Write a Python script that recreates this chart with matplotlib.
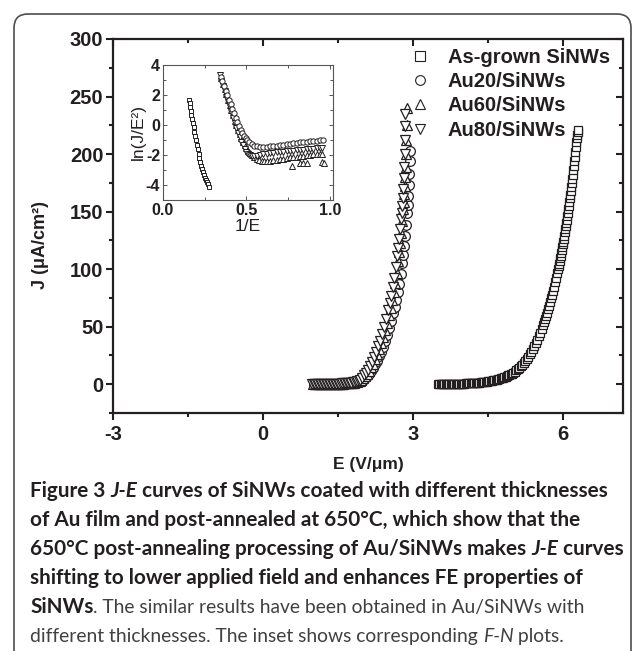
import matplotlib
matplotlib.use('Agg')
import matplotlib.pyplot as plt
from matplotlib.patches import FancyBboxPatch
from matplotlib.transforms import IdentityTransform
from matplotlib.ticker import MultipleLocator

plt.rcParams['axes.unicode_minus'] = False

# ---- main J-E curves ----
e_asgrown = [3.500, 3.525, 3.550, 3.575, 3.600, 3.625, 3.650, 3.675, 3.700, 3.725, 3.750, 3.775,
             3.800, 3.825, 3.850, 3.875, 3.900, 3.925, 3.950, 3.975, 4.000, 4.025, 4.050, 4.075,
             4.100, 4.125, 4.150, 4.175, 4.200, 4.225, 4.250, 4.275, 4.300, 4.325, 4.350, 4.375,
             4.400, 4.425, 4.450, 4.475, 4.500, 4.525, 4.550, 4.575, 4.600, 4.625, 4.650, 4.675,
             4.700, 4.725, 4.750, 4.775, 4.800, 4.825, 4.850, 4.875, 4.900, 4.925, 4.950, 4.975,
             5.00, 5.03, 5.06, 5.09, 5.12, 5.15, 5.18, 5.21, 5.24, 5.27, 5.30, 5.33,
             5.36, 5.39, 5.42, 5.45, 5.48, 5.51, 5.54, 5.57, 5.60, 5.62, 5.64, 5.66, 5.68, 5.70,
             5.72, 5.74, 5.76, 5.78, 5.80, 5.82, 5.84, 5.86, 5.88, 5.90, 5.91, 5.92, 5.93, 5.94,
             5.95, 5.96, 5.97, 5.98, 5.99, 6.00, 6.01, 6.02, 6.03, 6.04, 6.05, 6.06, 6.07, 6.08,
             6.09, 6.10, 6.11, 6.12, 6.13, 6.14, 6.15, 6.16, 6.17, 6.18, 6.19, 6.20, 6.21, 6.22,
             6.23, 6.24, 6.25, 6.26, 6.27, 6.28, 6.29, 6.30]
j_asgrown = [0.0, 0.0, 0.1, 0.1, 0.1, 0.1, 0.2, 0.2, 0.2, 0.2, 0.3, 0.3,
             0.3, 0.3, 0.4, 0.4, 0.4, 0.5, 0.5, 0.5, 0.6, 0.6, 0.7, 0.7,
             0.8, 0.8, 0.9, 1.0, 1.0, 1.1, 1.2, 1.3, 1.4, 1.5, 1.6, 1.8,
             1.9, 2.0, 2.2, 2.3, 2.5, 2.7, 2.9, 3.1, 3.3, 3.6, 3.8, 4.1,
             4.4, 4.7, 5.1, 5.4, 5.8, 6.2, 6.7, 7.1, 7.6, 8.1, 8.7, 9.3,
             10.0, 11.0, 12.1, 13.2, 14.4, 15.7, 17.1, 18.7, 20.3, 22.0, 24.0, 26.1,
             28.4, 30.7, 33.2, 35.8, 38.5, 41.5, 44.6, 48.0, 51.5, 54.0, 56.7, 59.5, 62.3, 65.2,
             68.2, 71.3, 74.5, 77.8, 81.2, 84.8, 88.5, 92.4, 96.4, 100.5, 102.7, 104.9, 107.1, 109.4,
             111.7, 114.1, 116.5, 119.0, 121.5, 124.0, 126.6, 129.2, 131.9, 134.6, 137.4, 140.2, 143.1, 146.0,
             149.0, 152.0, 155.1, 158.3, 161.5, 164.8, 168.1, 171.5, 175.0, 178.6, 182.2, 186.0, 189.8, 193.7,
             197.7, 201.8, 205.9, 210.1, 214.4, 217.0, 219.0, 221.0]

e_au20 = [1.01, 1.04, 1.07, 1.10, 1.13, 1.16, 1.19, 1.22, 1.25, 1.28, 1.31, 1.34, 1.37, 1.40,
          1.43, 1.46, 1.49, 1.52, 1.55, 1.58, 1.61, 1.64, 1.67, 1.70, 1.73, 1.76, 1.79, 1.82,
          1.85, 1.88, 1.91, 1.94, 1.97, 2.00, 2.04, 2.08, 2.12, 2.16, 2.20, 2.24, 2.28, 2.32,
          2.36, 2.40, 2.44, 2.48, 2.52, 2.56, 2.60, 2.63, 2.66, 2.69, 2.72, 2.75, 2.78, 2.80,
          2.82, 2.84, 2.86, 2.88, 2.89, 2.90, 2.91, 2.92, 2.93, 2.935]
j_au20 = [0.0, 0.0, 0.0, 0.0, 0.1, 0.1, 0.1, 0.1, 0.1, 0.2, 0.2, 0.2, 0.2, 0.3,
          0.3, 0.3, 0.4, 0.4, 0.5, 0.5, 0.6, 0.7, 0.7, 0.8, 0.9, 1.0, 1.2, 1.4,
          1.6, 1.9, 2.2, 2.7, 3.2, 4.0, 5.5, 7.2, 9.2, 11.6, 14.3, 17.3, 20.6, 24.2,
          28.2, 32.6, 37.4, 42.6, 48.5, 55.0, 62.0, 67.5, 73.5, 80.0, 87.5, 96.0, 105.5, 112.5,
          120.0, 128.5, 138.0, 149.0, 156.0, 164.0, 173.0, 183.0, 194.0, 203.0]

e_au60 = [1.00, 1.03, 1.06, 1.09, 1.12, 1.15, 1.18, 1.21, 1.24, 1.27, 1.30, 1.33, 1.36, 1.39,
          1.42, 1.45, 1.48, 1.51, 1.54, 1.57, 1.60, 1.63, 1.66, 1.69, 1.72, 1.75, 1.78, 1.81,
          1.84, 1.87, 1.90, 1.93, 1.96, 2.00, 2.04, 2.08, 2.12, 2.16, 2.20, 2.24, 2.28, 2.32,
          2.36, 2.40, 2.44, 2.48, 2.52, 2.55, 2.58, 2.61, 2.64, 2.67, 2.70, 2.72, 2.74, 2.76,
          2.78, 2.80, 2.81, 2.82, 2.83, 2.84, 2.85, 2.86, 2.865, 2.87, 2.875]
j_au60 = [0.0, 0.0, 0.0, 0.1, 0.1, 0.1, 0.1, 0.1, 0.2, 0.2, 0.2, 0.2, 0.3, 0.3,
          0.3, 0.4, 0.4, 0.5, 0.5, 0.6, 0.6, 0.7, 0.8, 0.9, 1.0, 1.1, 1.3, 1.5,
          1.8, 2.1, 2.4, 2.8, 3.6, 5.0, 6.8, 9.0, 11.6, 14.6, 18.0, 21.8, 26.0, 30.6,
          35.6, 41.0, 47.0, 53.5, 60.5, 66.5, 73.0, 80.0, 88.0, 97.0, 107.0, 114.5, 122.5, 131.5,
          141.5, 152.5, 158.5, 165.0, 172.0, 180.0, 189.0, 200.0, 212.0, 225.0, 240.0]

e_au80 = [0.98, 1.01, 1.04, 1.07, 1.10, 1.13, 1.16, 1.19, 1.22, 1.25, 1.28, 1.31, 1.34, 1.37,
          1.40, 1.43, 1.46, 1.49, 1.52, 1.55, 1.58, 1.61, 1.64, 1.67, 1.70, 1.73, 1.76, 1.79,
          1.82, 1.85, 1.88, 1.91, 1.94, 1.98, 2.02, 2.06, 2.10, 2.14, 2.18, 2.22, 2.26, 2.30,
          2.34, 2.38, 2.42, 2.46, 2.50, 2.53, 2.56, 2.59, 2.62, 2.65, 2.68, 2.70, 2.72, 2.74,
          2.76, 2.77, 2.78, 2.79, 2.80, 2.81, 2.82, 2.83, 2.835, 2.84, 2.845]
j_au80 = [0.0, 0.0, 0.0, 0.1, 0.1, 0.1, 0.1, 0.2, 0.2, 0.2, 0.2, 0.3, 0.3, 0.3,
          0.4, 0.4, 0.5, 0.5, 0.6, 0.6, 0.7, 0.8, 0.9, 1.0, 1.1, 1.3, 1.5, 1.7,
          2.0, 2.3, 2.6, 3.0, 4.0, 5.6, 7.6, 10.0, 12.8, 16.0, 19.6, 23.6, 28.0, 32.8,
          38.0, 43.8, 50.0, 57.0, 64.5, 70.5, 77.0, 84.5, 92.5, 101.5, 111.5, 118.5, 126.0, 134.5,
          144.0, 149.0, 155.0, 162.0, 170.0, 179.0, 189.0, 200.0, 212.0, 224.0, 235.0]

# ---- inset F-N plots ----
fx_asgrown = [0.157, 0.160, 0.163, 0.166, 0.170, 0.174, 0.178, 0.183, 0.188, 0.193, 0.198, 0.203,
              0.208, 0.213, 0.218, 0.223, 0.228, 0.234, 0.240, 0.246, 0.252, 0.258, 0.264, 0.270, 0.276]
fy_asgrown = [1.70, 1.45, 1.20, 0.95, 0.70, 0.40, 0.15, -0.15, -0.45, -0.75, -1.00, -1.30,
              -1.60, -1.90, -2.20, -2.45, -2.70, -2.95, -3.15, -3.35, -3.50, -3.65, -3.80, -3.95, -4.15]

fx_au20 = [0.345, 0.355, 0.365, 0.375, 0.385, 0.395, 0.405, 0.415, 0.425, 0.435, 0.445, 0.455,
           0.465, 0.475, 0.485, 0.495, 0.505, 0.515, 0.530, 0.545, 0.560, 0.580, 0.600, 0.620,
           0.640, 0.660, 0.680, 0.700, 0.720, 0.740, 0.760, 0.780, 0.800, 0.820, 0.840, 0.860,
           0.880, 0.900, 0.920, 0.940, 0.960]
fy_au20 = [3.20, 2.90, 2.60, 2.30, 2.00, 1.70, 1.40, 1.10, 0.80, 0.50, 0.20, -0.05,
           -0.30, -0.50, -0.70, -0.88, -1.02, -1.15, -1.28, -1.37, -1.43, -1.47, -1.48, -1.46,
           -1.43, -1.40, -1.37, -1.33, -1.30, -1.27, -1.24, -1.21, -1.18, -1.16, -1.13, -1.10,
           -1.08, -1.06, -1.04, -1.02, -1.00]

fx_au60 = [0.350, 0.360, 0.370, 0.380, 0.390, 0.400, 0.410, 0.420, 0.430, 0.440, 0.450, 0.460,
           0.470, 0.480, 0.490, 0.500, 0.510, 0.520, 0.530, 0.545, 0.560, 0.575, 0.590, 0.605,
           0.620, 0.640, 0.660, 0.680, 0.700, 0.720, 0.740, 0.760, 0.780, 0.800, 0.820, 0.840,
           0.860, 0.880, 0.900, 0.920, 0.940, 0.955, 0.775, 0.820, 0.840, 0.860, 0.950, 0.965]
fy_au60 = [3.10, 2.75, 2.40, 2.05, 1.70, 1.35, 1.00, 0.65, 0.30, -0.02, -0.32, -0.60,
           -0.86, -1.10, -1.32, -1.52, -1.70, -1.86, -2.00, -2.13, -2.24, -2.32, -2.38, -2.42,
           -2.43, -2.40, -2.36, -2.32, -2.28, -2.24, -2.20, -2.16, -2.13, -2.10, -2.07, -2.04,
           -2.01, -1.98, -1.96, -1.94, -1.92, -1.90, -2.70, -2.55, -2.52, -2.50, -2.45, -2.50]

fx_au80 = [0.340, 0.350, 0.360, 0.370, 0.380, 0.390, 0.400, 0.410, 0.420, 0.430, 0.440, 0.450,
           0.460, 0.470, 0.480, 0.490, 0.500, 0.510, 0.520, 0.530, 0.545, 0.560, 0.580, 0.600,
           0.620, 0.640, 0.660, 0.680, 0.700, 0.720, 0.740, 0.760, 0.780, 0.800, 0.820, 0.840,
           0.860, 0.880, 0.900, 0.920, 0.940, 0.955]
fy_au80 = [3.30, 2.95, 2.60, 2.25, 1.90, 1.55, 1.20, 0.85, 0.50, 0.15, -0.20, -0.52,
           -0.82, -1.10, -1.36, -1.58, -1.78, -1.93, -2.03, -2.08, -2.07, -2.04, -2.00, -1.96,
           -1.92, -1.89, -1.86, -1.83, -1.80, -1.77, -1.75, -1.72, -1.70, -1.68, -1.66, -1.64,
           -1.62, -1.60, -1.58, -1.56, -1.54, -1.52]

labels = ['As-grown SiNWs', 'Au20/SiNWs', 'Au60/SiNWs', 'Au80/SiNWs']

W, H = 633, 651
fig = plt.figure(figsize=(W / 100, H / 100), dpi=100)
chart_font = 'Liberation Sans'
ink = '#231f20'

# rounded caption box
box = FancyBboxPatch((14, -30), 617, H - 14 + 30, boxstyle='round,pad=0,rounding_size=14',
                     transform=IdentityTransform(), facecolor='none', edgecolor='#4d4d4d', linewidth=1.2)
fig.add_artist(box)

ax = fig.add_axes([113 / W, 1 - 413 / H, 510 / W, 374 / H])
mk = dict(linestyle='none', markerfacecolor='white', markeredgecolor=ink, markeredgewidth=0.9)
ax.plot(e_asgrown, j_asgrown, marker='s', markersize=5.2, label=labels[0], **mk)
ax.plot(e_au20, j_au20, marker='o', markersize=7, label=labels[1], **mk)
ax.plot(e_au60, j_au60, marker='^', markersize=7.5, label=labels[2], **mk)
ax.plot(e_au80, j_au80, marker='v', markersize=7.5, label=labels[3], **mk)
ax.set_xlim(-3, 7.2)
ax.set_ylim(-25, 300)
ax.xaxis.set_major_locator(MultipleLocator(3))
ax.xaxis.set_minor_locator(MultipleLocator(1.5))
ax.yaxis.set_major_locator(MultipleLocator(50))
ax.yaxis.set_minor_locator(MultipleLocator(25))
for s in ax.spines.values():
    s.set_linewidth(1.6)
    s.set_color(ink)
ax.tick_params(which='both', direction='out', top=False, right=False, width=1.5, color=ink)
ax.tick_params(which='major', length=5)
ax.tick_params(which='minor', length=3)
ax.tick_params(axis='both', labelsize=14.5, pad=2, labelcolor=ink)
for t in ax.get_xticklabels() + ax.get_yticklabels():
    t.set_fontweight('bold')
    t.set_fontfamily(chart_font)
ax.tick_params(axis='x', pad=4)

# mirrored inward ticks on top and right
top = ax.secondary_xaxis('top')
top.xaxis.set_major_locator(MultipleLocator(3))
top.xaxis.set_minor_locator(MultipleLocator(1.5))
top.tick_params(which='both', direction='in', labeltop=False, width=1.5, color=ink)
top.tick_params(which='major', length=5)
top.tick_params(which='minor', length=3)
right = ax.secondary_yaxis('right')
right.yaxis.set_major_locator(MultipleLocator(50))
right.yaxis.set_minor_locator(MultipleLocator(25))
right.tick_params(which='both', direction='in', labelright=False, width=1.5, color=ink)
right.tick_params(which='major', length=5)
right.tick_params(which='minor', length=3)
for sa in (top, right):
    for s in sa.spines.values():
        s.set_visible(False)

ax.set_xlabel('E (V/\u03bcm)', fontsize=12.5, fontweight='bold', family=chart_font, color=ink, labelpad=9)
ax.set_ylabel('J (\u03bcA/cm\u00b2)', fontsize=13, fontweight='bold', family=chart_font, color=ink)
ax.yaxis.set_label_coords(-0.125, 0.45)

leg = ax.legend(loc='upper right', bbox_to_anchor=(1.0, 1.012), frameon=False, handlelength=1.0,
                handletextpad=0.9, labelspacing=0.27, borderaxespad=0.25,
                prop={'family': chart_font, 'weight': 'bold', 'size': 14.5})
for h in leg.legend_handles:
    h.set_markeredgewidth(0.8)
    h.set_markersize(7)
for t in leg.get_texts():
    t.set_color(ink)

# inset
ins = fig.add_axes([163 / W, 1 - 200 / H, 170 / W, 135 / H])
mi = dict(linestyle='none', markerfacecolor='white', markeredgecolor=ink, markeredgewidth=0.7)
ins.plot(fx_asgrown, fy_asgrown, marker='s', markersize=3.2, **mi)
ins.plot(fx_au60, fy_au60, marker='^', markersize=3.8, **mi)
ins.plot(fx_au80, fy_au80, marker='v', markersize=3.8, **mi)
ins.plot(fx_au20, fy_au20, marker='o', markersize=3.8, **mi)
ins.set_xlim(0, 1.018)
ins.set_ylim(-5, 4)
ins.xaxis.set_major_locator(MultipleLocator(0.5))
ins.xaxis.set_minor_locator(MultipleLocator(0.25))
ins.yaxis.set_major_locator(MultipleLocator(2))
ins.yaxis.set_minor_locator(MultipleLocator(1))
for s in ins.spines.values():
    s.set_linewidth(0.8)
    s.set_color('#555555')
ins.tick_params(which='both', direction='in', top=True, right=True, width=0.7, color='#555555')
ins.tick_params(which='major', length=3)
ins.tick_params(which='minor', length=2)
ins.tick_params(axis='both', labelsize=11.5, pad=2, labelcolor=ink)
for t in ins.get_xticklabels() + ins.get_yticklabels():
    t.set_fontweight('bold')
    t.set_fontfamily(chart_font)
ins.set_xlabel('1/E', fontsize=12.5, family=chart_font, color=ink, labelpad=1)
ins.set_ylabel('ln(J/E\u00b2)', fontsize=12.5, family=chart_font, color=ink, labelpad=0)

# caption
cap_font = 'Lato'
dark = '#231f20'
grey = '#404041'
cap_lines = [
    [('Figure 3 ', 'bold', 'normal', dark), ('J-E', 'bold', 'italic', dark),
     (' curves of SiNWs coated with different thicknesses', 'bold', 'normal', dark)],
    [('of Au film and post-annealed at 650\u00b0C, which show that the', 'bold', 'normal', dark)],
    [('650\u00b0C post-annealing processing of Au/SiNWs makes ', 'bold', 'normal', dark),
     ('J-E', 'bold', 'italic', dark), (' curves', 'bold', 'normal', dark)],
    [('shifting to lower applied field and enhances FE properties of', 'bold', 'normal', dark)],
    [('SiNWs', 'bold', 'normal', dark),
     ('. The similar results have been obtained in Au/SiNWs with', 'normal', 'normal', grey)],
    [('different thicknesses. The inset shows corresponding ', 'normal', 'normal', grey),
     ('F-N', 'normal', 'italic', grey), (' plots.', 'normal', 'normal', grey)],
]
cap_y = [497, 526, 555, 584, 613, 642]
cap_left = 30

renderer = fig.canvas.get_renderer()


def line_width(segs, bsize, rsize):
    w = 0
    for txt, wt, st, col in segs:
        size = bsize if wt == 'bold' else rsize
        p = fig.text(0, 0, txt, fontsize=size, fontweight=wt, fontstyle=st, family=cap_font)
        w += p.get_window_extent(renderer).width
        p.remove()
    return w


# fit the caption sizes to the widths of the original lines
bold_size = 14 * 598 / max(line_width(cap_lines[i], 14, 14) for i in range(4))
reg_size = 14 * 537 / line_width(cap_lines[5], 14, 14)

for segs, ypix in zip(cap_lines, cap_y):
    x = cap_left
    for txt, wt, st, col in segs:
        size = bold_size if wt == 'bold' else reg_size
        t = fig.text(x, H - ypix, txt, transform=IdentityTransform(), fontsize=size,
                     fontweight=wt, fontstyle=st, color=col, family=cap_font, va='baseline')
        x += t.get_window_extent(renderer).width

fig.savefig('out.png', dpi=100)
